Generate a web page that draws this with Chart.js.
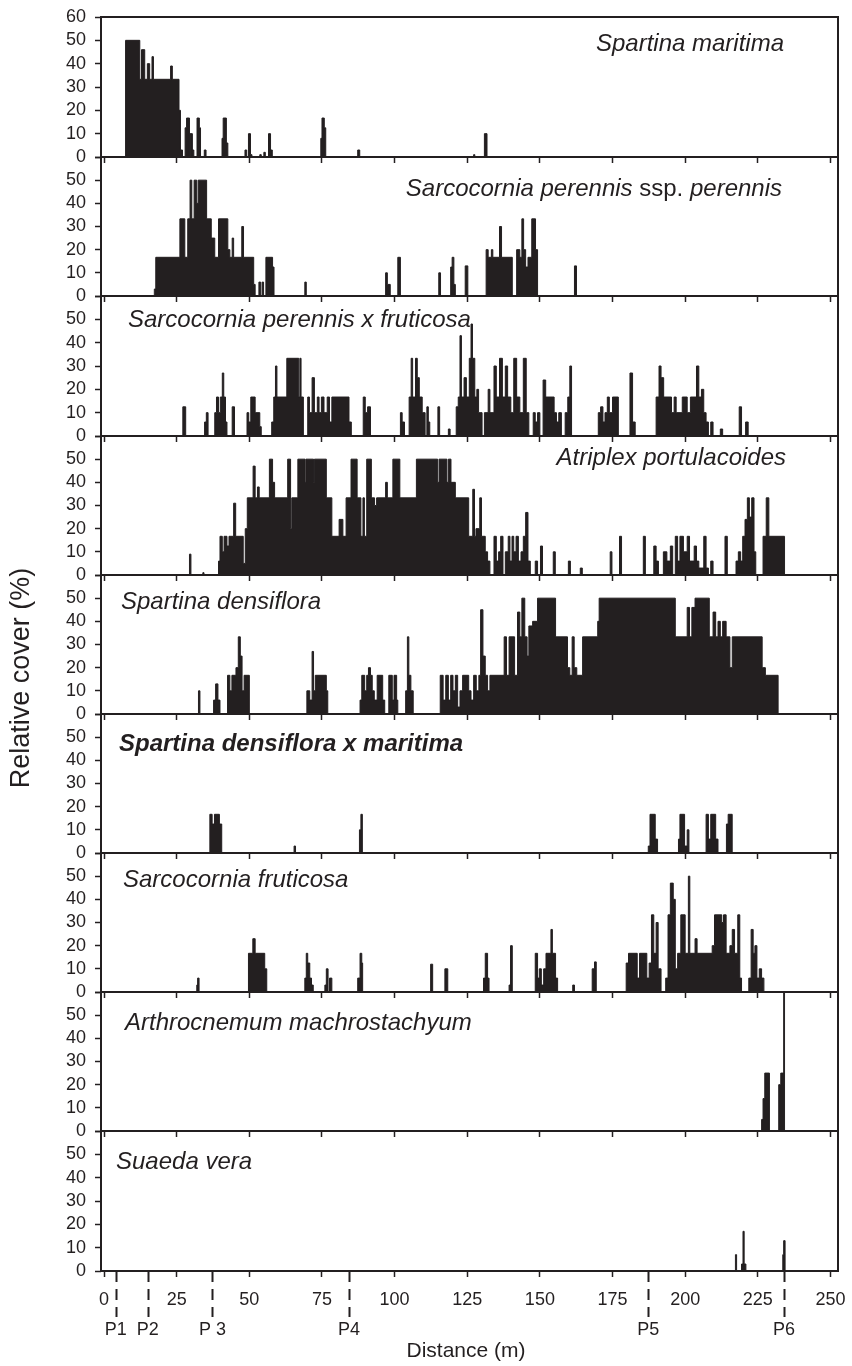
<!DOCTYPE html>
<html>
<head>
<meta charset="utf-8">
<script src="https://cdn.jsdelivr.net/npm/chart.js@4.4.1/dist/chart.umd.min.js"></script>
<style>
  html, body { margin: 0; padding: 0; background: #fff; }
  #wrap { position: relative; width: 852px; height: 1366px; }
  #wrap canvas { position: absolute; left: 0; top: 0; }
</style>
</head>
<body>
<div id="wrap"></div>
<script>
// species, top panel to bottom panel
const speciesNames = [
  "Spartina maritima",
  "Sarcocornia perennis ssp. perennis",
  "Sarcocornia perennis x fruticosa",
  "Atriplex portulacoides",
  "Spartina densiflora",
  "Spartina densiflora x maritima",
  "Sarcocornia fruticosa",
  "Arthrocnemum machrostachyum",
  "Suaeda vera"
];

// relative cover (%) along the transect: [distance (m), cover]
// each cover value holds until the next distance
const spartinaMaritima = [[7.4,50],[12.3,33.3],[12.9,46],[14.0,33.3],[14.9,40],[15.7,33.3],[16.5,43],[17.0,33.3],[22.9,39],[23.5,33.3],[25.8,20],[26.3,3],[27.0,0],[27.9,12.5],[28.4,16.7],[29.4,0],[29.6,10],[30.4,3],[30.9,0],[32.0,16.7],[32.8,12.5],[33.2,0],[34.5,3],[35.1,0],[40.6,8],[41.0,16.7],[42.1,6],[42.6,0],[48.5,3],[49.1,0],[49.7,10],[50.4,1],[50.9,0],[53.6,1],[54.1,0],[55.0,2],[55.5,0],[56.6,10],[57.3,3],[57.9,0],[74.6,8],[75.0,16.7],[75.8,12.5],[76.3,0],[87.3,3],[88.0,0],[127.2,1],[127.6,0],[130.9,10],[131.8,0]];

const sarcoPerennis = [[17.3,3],[17.8,16.7],[26.1,33.3],[27.8,16.7],[28.8,33.3],[29.6,50],[30.2,33.3],[31.0,50],[31.9,40],[32.4,50],[35.3,33.3],[36.9,25],[38.1,16.7],[39.4,33.3],[42.6,20],[43.3,16.7],[44.1,25],[44.6,16.7],[47.4,30],[48.0,16.7],[51.5,5],[52.0,0],[53.3,6],[53.9,0],[54.4,6],[54.9,0],[55.7,16.7],[58.0,12.5],[58.5,0],[69.1,6],[69.6,0],[96.9,10],[97.5,5],[98.5,0],[101.1,16.7],[102.0,0],[115.2,10],[115.8,0],[119.3,12.5],[119.8,16.7],[120.4,5],[120.9,0],[124.3,13],[125.2,0],[131.5,20],[132.2,16.7],[133.3,20],[133.8,16.7],[136.1,30],[136.8,16.7],[140.5,0],[142.0,20],[143.1,16.7],[143.8,33.3],[144.4,20],[145.1,12.5],[145.9,16.7],[147.2,33.3],[148.5,20],[149.2,0],[161.9,13],[162.6,0]];

const sarcoHybrid = [[27.1,12.5],[28.1,0],[34.6,6],[35.2,10],[35.8,0],[38.1,10],[38.7,16.7],[39.4,10],[40.0,16.7],[40.7,27],[41.2,16.7],[41.8,6],[42.3,0],[44.1,12.5],[44.9,0],[49.2,10],[49.8,6],[50.5,16.7],[52.0,10],[53.6,4],[54.1,0],[57.7,6],[58.4,16.7],[59.0,30],[59.5,16.7],[62.9,33.3],[67.0,16.7],[67.4,33.3],[67.8,16.7],[68.6,0],[70.1,16.7],[70.7,10],[71.6,25],[72.4,10],[73.4,16.7],[74.0,10],[74.8,16.7],[75.7,10],[76.8,16.7],[77.6,6],[78.4,16.7],[84.3,6],[85.1,0],[89.2,16.7],[89.9,10],[90.7,12.5],[91.7,0],[102.0,10],[102.6,6],[103.4,0],[105.0,16.7],[105.7,33.3],[106.2,16.7],[107.2,33.3],[107.8,25],[108.5,16.7],[109.5,10],[110.5,0],[111.1,12.5],[111.6,6],[112.1,0],[114.9,12.5],[115.5,0],[118.5,3],[119.1,0],[121.2,12.5],[121.9,16.7],[122.5,43],[123.0,16.7],[123.9,25],[124.7,16.7],[125.7,33.3],[126.3,48],[126.8,33.3],[127.6,16.7],[128.3,20],[128.9,10],[130.1,0],[130.9,10],[132.2,20],[132.8,10],[134.2,30],[135.0,16.7],[136.1,33.3],[137.1,16.7],[138.1,30],[138.9,16.7],[140.0,10],[141.0,33.3],[142.0,16.7],[143.1,10],[144.3,33.3],[145.3,10],[146.2,0],[147.7,10],[148.4,6],[149.2,10],[150.0,0],[151.1,24],[152.0,16.7],[154.9,10],[155.7,6],[156.5,10],[157.4,0],[158.7,10],[159.6,16.7],[160.3,30],[160.9,0],[170.1,10],[170.9,12.5],[171.7,6],[172.4,10],[173.2,16.7],[173.9,10],[175.0,16.7],[177.0,0],[181.0,27],[181.9,6],[182.8,0],[190.0,16.7],[191.0,30],[191.7,25],[192.6,16.7],[195.3,10],[196.2,16.7],[196.9,10],[199.0,16.7],[200.7,10],[201.8,16.7],[203.9,30],[204.7,16.7],[205.6,20],[206.4,10],[207.2,6],[208.0,0],[208.8,6],[209.6,0],[212.1,3],[212.9,0],[218.6,12.5],[219.4,0],[220.8,6],[221.7,0]];

const atriplex = [[29.4,9],[29.9,0],[34.0,1],[34.4,0],[39.4,6],[39.9,16.7],[40.7,10],[41.3,16.7],[42.3,12.5],[43.0,16.7],[44.6,31],[45.3,16.7],[47.9,5],[48.6,20],[49.3,33.3],[51.3,47],[52.0,33.3],[52.8,38],[53.4,33.3],[56.9,50],[58.0,40],[58.7,33.3],[63.2,50],[64.2,20],[64.6,33.3],[66.7,50],[69.2,40],[69.5,50],[72.1,40],[72.4,50],[76.5,33.3],[78.4,16.7],[80.9,24],[82.2,16.7],[83.3,33.3],[85.0,50],[87.1,33.3],[88.4,16.7],[89.1,33.3],[89.6,16.7],[90.4,50],[92.0,33.3],[93.1,30],[93.8,33.3],[96.9,40],[97.5,33.3],[99.4,50],[101.8,33.3],[107.5,50],[114.8,40],[115.3,50],[118.0,40],[118.5,50],[119.4,40],[120.9,33.3],[125.5,16.7],[126.9,37],[127.5,16.7],[128.0,20],[129.3,33.3],[129.9,16.7],[131.2,10],[132.0,6],[132.8,0],[134.2,16.7],[135.0,6],[135.8,10],[136.5,16.7],[137.3,0],[138.1,10],[139.1,16.7],[139.7,6],[140.4,16.7],[141.0,10],[141.8,16.7],[142.6,6],[143.5,10],[144.3,16.7],[145.1,27],[145.9,6],[146.7,0],[148.4,6],[149.2,0],[150.2,12.5],[150.9,0],[154.6,10],[155.3,0],[159.8,6],[160.5,0],[163.9,3],[164.6,0],[174.2,10],[174.8,0],[177.4,16.7],[178.1,0],[185.6,16.7],[186.3,0],[189.2,12.5],[190.0,6],[190.8,0],[192.5,10],[193.7,6],[194.9,12.5],[195.7,0],[196.6,16.7],[197.4,6],[198.2,16.7],[199.4,10],[200.7,16.7],[201.5,6],[203.1,12.5],[203.9,6],[204.7,3],[206.4,16.7],[207.2,3],[208.0,0],[208.8,6],[209.6,0],[213.7,16.7],[214.5,0],[217.5,6],[218.3,10],[219.1,6],[219.8,16.7],[220.6,24],[221.4,33.3],[222.1,25],[222.9,33.3],[223.7,10],[224.3,0],[226.8,16.7],[227.9,33.3],[228.8,16.7],[234.2,0]];

const spartinaDensiflora = [[32.5,10],[33.0,0],[37.7,6],[38.4,13],[39.2,6],[39.9,0],[42.5,16.7],[43.3,10],[44.0,16.7],[45.4,20],[46.2,33.3],[46.9,25],[47.5,10],[48.2,16.7],[50.0,0],[69.8,10],[70.8,6],[71.6,27],[72.1,10],[72.7,16.7],[76.5,10],[77.0,0],[88.1,6],[88.7,16.7],[89.7,10],[90.4,16.7],[91.0,20],[91.7,16.7],[92.3,10],[93.0,6],[94.0,16.7],[95.9,6],[96.6,0],[98.0,16.7],[99.2,6],[99.8,16.7],[100.7,6],[101.1,0],[103.8,10],[104.4,33.3],[104.9,16.7],[105.6,10],[106.4,0],[115.7,16.7],[116.7,6],[117.6,16.7],[118.5,6],[119.3,16.7],[120.1,10],[120.9,16.7],[121.7,3],[122.5,10],[123.4,16.7],[125.5,10],[126.3,6],[127.2,16.7],[128.1,10],[129.0,16.7],[129.6,45],[130.4,25],[131.2,16.7],[132.0,10],[132.8,16.7],[137.7,33.3],[138.5,16.7],[139.4,33.3],[141.3,16.7],[142.3,44],[143.1,33.3],[143.8,50],[144.8,33.3],[145.6,25],[146.2,38],[147.5,40],[149.2,50],[155.4,33.3],[159.5,20],[160.3,16.7],[161.1,33.3],[161.8,20],[162.7,16.7],[164.7,33.3],[169.9,40],[170.4,50],[196.6,33.3],[200.7,46],[201.5,33.3],[202.3,46],[203.4,50],[208.3,33.3],[209.6,44],[210.5,33.3],[211.3,40],[212.1,33.3],[212.9,40],[214.1,33.3],[215.4,20],[216.2,33.3],[226.5,20],[227.6,16.7],[232.0,0]];

const spartinaHybrid = [[36.4,16.7],[37.2,12.5],[38.0,16.7],[39.7,12.5],[40.5,0],[65.4,3],[65.9,0],[87.9,10],[88.4,16.7],[88.9,0],[187.3,3],[187.9,16.7],[189.7,6],[190.5,0],[197.7,6],[198.2,16.7],[199.8,3],[200.7,10],[201.3,0],[207.2,16.7],[208.0,6],[208.8,16.7],[210.5,6],[211.3,0],[214.2,12.5],[214.8,16.7],[216.2,0]];

const sarcoFruticosa = [[31.9,3],[32.2,6],[32.7,0],[49.7,16.7],[51.2,23],[52.0,16.7],[55.3,10],[56.0,0],[69.1,6],[69.6,16.7],[70.1,12.5],[70.8,6],[71.4,3],[72.0,0],[76.0,3],[76.5,10],[77.1,0],[77.6,6],[78.4,0],[87.3,6],[88.1,16.7],[88.7,12.5],[89.0,0],[112.4,12],[113.1,0],[117.3,10],[118.3,0],[130.6,6],[131.2,16.7],[132.0,6],[132.5,0],[139.4,3],[139.9,20],[140.5,0],[148.4,16.7],[149.2,6],[149.8,10],[150.5,3],[151.3,10],[152.1,16.7],[153.8,27],[154.3,16.7],[155.4,6],[156.1,0],[161.3,3],[161.9,0],[168.0,10],[168.8,13],[169.4,0],[179.7,12.5],[180.5,16.7],[183.5,6],[184.3,16.7],[186.8,6],[187.6,12.5],[188.4,33.3],[189.2,16.7],[190.0,30],[190.7,10],[191.7,0],[193.3,6],[194.1,33.3],[194.9,47],[195.9,40],[196.6,10],[197.4,16.7],[198.5,33.3],[200.0,16.7],[201.1,50],[201.6,16.7],[203.4,23],[204.1,16.7],[209.3,20],[210.1,33.3],[212.6,30],[213.2,33.3],[214.1,16.7],[215.4,20],[216.2,27],[217.0,16.7],[218.1,33.3],[218.8,6],[219.4,0],[221.9,6],[222.7,27],[223.4,16.7],[224.0,20],[224.7,6],[225.5,10],[226.3,6],[227.1,0]];

const arthrocnemum = [[226.3,5],[226.8,14],[227.4,25],[229.0,0],[232.2,20],[232.9,25],[233.9,60],[234.2,0]];

const suaeda = [[217.3,7],[217.7,0],[219.4,3],[219.9,17],[220.3,3],[220.9,0],[233.6,7],[233.9,13],[234.4,0]];

const coverSeries = [spartinaMaritima, sarcoPerennis, sarcoHybrid, atriplex, spartinaDensiflora, spartinaHybrid, sarcoFruticosa, arthrocnemum, suaeda];

// axis ticks
const distanceTicks = [0, 25, 50, 75, 100, 125, 150, 175, 200, 225, 250];
const coverTicks = [0, 10, 20, 30, 40, 50, 60];

// sampling points along the transect
const plotNames = ["P1", "P2", "P 3", "P4", "P5", "P6"];
const plotDistances = [4, 15, 37.3, 84.3, 187.3, 234];

// --- layout (pixels) ---
const panelEdges = [17, 157, 296, 436, 575, 714, 853, 992, 1131, 1271];
const nameSpots = [
  { align: "right", x: 784, dy: 34 },
  { align: "right", x: 782, dy: 39 },
  { align: "left", x: 128, dy: 31 },
  { align: "right", x: 786, dy: 29 },
  { align: "left", x: 121, dy: 34 },
  { align: "left", x: 119, dy: 37, bold: true },
  { align: "left", x: 123, dy: 34 },
  { align: "left", x: 125, dy: 38 },
  { align: "left", x: 116, dy: 38 }
];

const ink = "#231f20";
const family = "'Liberation Sans', Arial, Helvetica, sans-serif";
const W = 852, H = 1366;
const wrap = document.getElementById("wrap");

function drawName(ctx, name, spot, y) {
  // "ssp." is set upright, the rest italic
  const parts = name.split(/(ssp\.)/).filter(p => p.length);
  const weight = spot.bold ? "bold " : "";
  const fontOf = p => (p === "ssp." ? "" : "italic ") + weight + "24px " + family;
  const widths = parts.map(p => { ctx.font = fontOf(p); return ctx.measureText(p).width; });
  const total = widths.reduce((a, b) => a + b, 0);
  let cx = spot.align === "right" ? spot.x - total : spot.x;
  ctx.textAlign = "left";
  ctx.textBaseline = "alphabetic";
  parts.forEach((p, k) => { ctx.font = fontOf(p); ctx.fillText(p, cx, y); cx += widths[k]; });
}

coverSeries.forEach((series, i) => {
  const canvas = document.createElement("canvas");
  canvas.width = W;
  canvas.height = H;
  wrap.appendChild(canvas);

  const top = panelEdges[i];
  const bottom = panelEdges[i + 1];
  const isLast = i === coverSeries.length - 1;
  const points = [{ x: series[0][0], y: 0 }].concat(series.map(([x, y]) => ({ x: x, y: y })));

  const decor = {
    id: "decor" + i,
    afterDraw(chart) {
      const { ctx, chartArea: a, scales: { x } } = chart;
      ctx.save();
      ctx.strokeStyle = ink;
      ctx.fillStyle = ink;
      ctx.lineWidth = 2;
      ctx.strokeRect(a.left, a.top, a.right - a.left, a.bottom - a.top);

      drawName(ctx, speciesNames[i], nameSpots[i], a.top + nameSpots[i].dy);

      if (isLast) {
        // dashed markers of the sampling points
        ctx.lineWidth = 2;
        ctx.setLineDash([11, 7]);
        plotDistances.forEach(d => {
          const px = Math.round(x.getPixelForValue(d)) + 0.5;
          ctx.beginPath();
          ctx.moveTo(px, a.bottom);
          ctx.lineTo(px, a.bottom + 46);
          ctx.stroke();
        });
        ctx.setLineDash([]);
        ctx.font = "18px " + family;
        ctx.textAlign = "center";
        ctx.textBaseline = "alphabetic";
        plotNames.forEach((n, k) => ctx.fillText(n, x.getPixelForValue(plotDistances[k]), a.bottom + 64));

        ctx.font = "21px " + family;
        ctx.fillText("Distance (m)", 466, a.bottom + 86);

        ctx.translate(22, 678);
        ctx.rotate(-Math.PI / 2);
        ctx.font = "27px " + family;
        ctx.textBaseline = "middle";
        ctx.fillText("Relative cover (%)", 0, 0);
      }
      ctx.restore();
    }
  };

  new Chart(canvas, {
    type: "line",
    data: {
      datasets: [{
        data: points,
        stepped: "before",
        fill: "origin",
        backgroundColor: ink,
        borderColor: ink,
        borderWidth: 1,
        pointRadius: 0,
        tension: 0
      }]
    },
    options: {
      responsive: false,
      animation: false,
      events: [],
      layout: { padding: { top: top, left: 0, right: W - 838, bottom: 0 } },
      plugins: { legend: { display: false }, tooltip: { enabled: false } },
      scales: {
        x: {
          type: "linear",
          min: -1.05,
          max: 252.6,
          afterFit: s => { s.height = H - bottom; s.paddingLeft = 0; s.paddingRight = 0; },
          afterBuildTicks: s => { s.ticks = distanceTicks.map(v => ({ value: v })); },
          border: { display: false },
          grid: { drawOnChartArea: false, drawTicks: true, tickLength: 6, tickWidth: 1.5, tickColor: ink },
          ticks: { display: isLast, color: ink, font: { family: family, size: 18 }, padding: 12, maxRotation: 0, autoSkip: false }
        },
        y: {
          min: 0,
          max: 60,
          afterFit: s => { s.width = 101; s.paddingTop = 0; s.paddingBottom = 0; },
          afterBuildTicks: s => { s.ticks = coverTicks.map(v => ({ value: v })); },
          border: { display: false },
          grid: { drawOnChartArea: false, drawTicks: true, tickLength: 6, tickWidth: 1.5, tickColor: ink },
          ticks: {
            color: ink,
            font: { family: family, size: 18 },
            padding: 9,
            autoSkip: false,
            callback: v => (i > 0 && v === 60) ? "" : v
          }
        }
      }
    },
    plugins: [decor]
  });
});
</script>
</body>
</html>
